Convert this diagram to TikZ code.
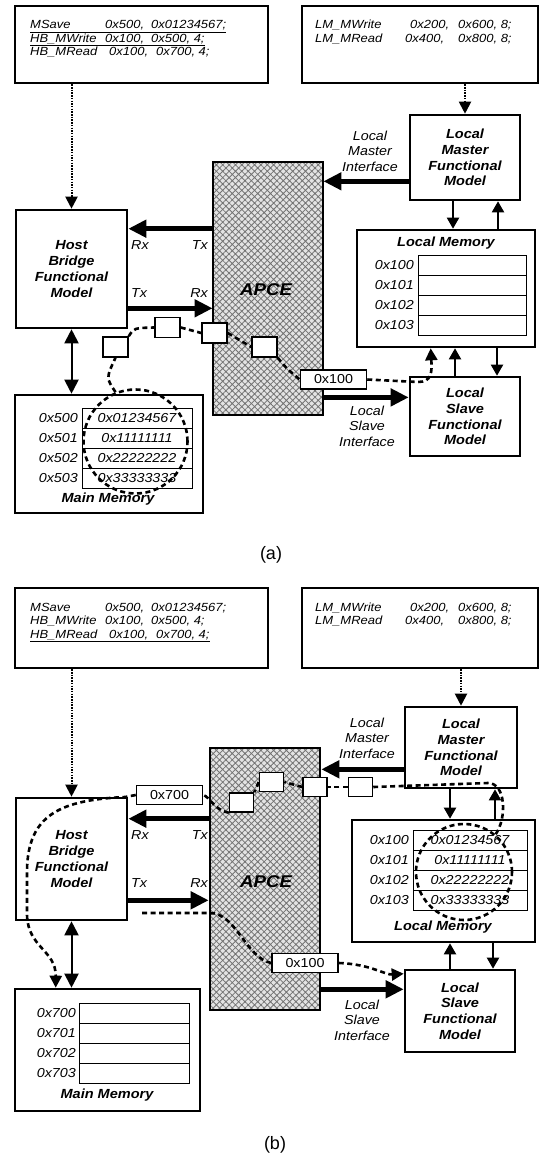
\documentclass[tikz,border=0pt]{standalone}
\usepackage{fontspec}
\setmainfont{Liberation Sans}[FakeStretch=1.1]
\newfontfamily\capfont{Liberation Sans}
\usetikzlibrary{arrows.meta,patterns.meta,calc}
\begin{document}
\begin{tikzpicture}[x=1pt,y=-1pt,
  box/.style={draw, line width=2.6pt, fill=white, inner sep=0pt},
  cmdtext/.style={anchor=base west, inner sep=0pt, font=\fontsize{11.8}{14}\selectfont\itshape},
  title/.style={align=center, inner sep=0pt, font=\fontsize{13.2}{15.8}\selectfont\bfseries\itshape},
  lab/.style={align=center, inner sep=0pt, font=\fontsize{13}{15.5}\selectfont\itshape},
  cell/.style={draw, line width=0.9pt, minimum width=110pt, minimum height=20pt, inner sep=0pt, font=\fontsize{13}{14}\selectfont\itshape},
  addr/.style={anchor=east, inner sep=0pt, font=\fontsize{13}{14}\selectfont\itshape},
  sq/.style={draw, line width=1.5pt, fill=white, minimum width=25pt, minimum height=20pt, inner sep=0pt},
  hexbox/.style={draw, line width=1.5pt, fill=white, minimum width=66pt, minimum height=19pt, inner sep=0pt, font=\fontsize{13}{14}\selectfont},
  apce/.style={draw, line width=2.6pt, inner sep=0pt, preaction={fill=gray!22},
    pattern={Hatch[angle=45,distance=4.5pt,line width=0.8pt]}, pattern color=black!55},
  apcetext/.style={inner sep=1pt, font=\fontsize{17}{18}\selectfont\bfseries\itshape},
  bigarrow/.style={line width=5pt, -{Triangle[length=18pt,width=17pt]}},
  thinarrow/.style={line width=2pt, -{Triangle[length=11pt,width=12pt]}},
  dualarrow/.style={line width=2pt, {Triangle[length=14pt,width=14pt]}-{Triangle[length=14pt,width=14pt]}},
  cmdarrow/.style={line width=2pt, dash pattern=on 1.5pt off 1.2pt, -{Triangle[length=12pt,width=12pt]}},
  flow/.style={line width=2.6pt, dash pattern=on 5pt off 3.5pt},
  flowarrow/.style={flow, -{Triangle[length=12pt,width=12pt]}},
  capt/.style={inner sep=0pt, font=\capfont\fontsize{18}{20}\selectfont},
]
\useasboundingbox[fill=white] (0,0) rectangle (542,1164);

%%%%%%%%%%%%%%%%%%%%%%%%%% (a)
\node[box, minimum width=253pt, minimum height=77pt] (cmdA) at (141.5,44.5) {};
\node[cmdtext] (cmdA1) at (30,29) {\underline{\makebox[75pt][l]{MSave}\makebox[46pt][l]{0x500,}0x01234567;}};
\node[cmdtext] (cmdA2) at (30,42.5) {\underline{\makebox[75pt][l]{HB\_MWrite}\makebox[46pt][l]{0x100,}0x500, 4;}};
\node[cmdtext] (cmdA3) at (30,56) {\makebox[79pt][l]{HB\_MRead}\makebox[47pt][l]{0x100,}0x700, 4;};
\node[box, minimum width=236pt, minimum height=77pt] (lmcA) at (420,44.5) {};
\node[cmdtext] (lmcA1) at (315,29) {\makebox[95pt][l]{LM\_MWrite}\makebox[48pt][l]{0x200,}0x600, 8;};
\node[cmdtext] (lmcA2) at (315,42.5) {\makebox[90pt][l]{LM\_MRead}\makebox[53pt][l]{0x400,}0x800, 8;};

\node[apce, minimum width=110pt, minimum height=253pt] (apceA) at (268,288.5) {};
\node[apcetext] (apceAt) at (266,290) {APCE};

\node[box, title, minimum width=111pt, minimum height=118pt] (hbA) at (71.5,269) {Host\\Bridge\\Functional\\Model};
\node[box, title, minimum width=110pt, minimum height=85pt] (lmfmA) at (465,157.5) {Local\\Master\\Functional\\Model};
\node[lab] (lmiA) at (370,151) {Local\\Master\\Interface};
\node[box, title, minimum width=110pt, minimum height=79pt] (lsfmA) at (465,416.5) {Local\\Slave\\Functional\\Model};
\node[lab] (lsiA) at (367,426) {Local\\Slave\\Interface};

\node[box, minimum width=178pt, minimum height=117pt] (lmA) at (446,288.5) {};
\node[title] (lmAt) at (446,243) {Local Memory};
\foreach \i in {0,...,3} {
  \node[cell, minimum width=108pt] (lmAc\i) at (472,265+20*\i) {};
  \node[addr] (lmAa\i) at (414,265+20*\i) {0x10\i};
}

\node[box, minimum width=188pt, minimum height=118pt] (mmA) at (109,454) {};
\foreach \i/\v in {0/0x01234567,1/0x11111111,2/0x22222222,3/0x33333333} {
  \node[cell] (mmAc\i) at (137,418+20*\i) {\v};
  \node[addr] (mmAa\i) at (78,418+20*\i) {0x50\i};
}
\node[title] (mmAt) at (108,499) {Main Memory};

% Rx / Tx
\node[lab, anchor=west] (rxA1) at (131,245) {Rx};
\node[lab, anchor=east] (txA1) at (208,245) {Tx};
\node[lab, anchor=west] (txA2) at (131,293) {Tx};
\node[lab, anchor=east] (rxA2) at (208,293) {Rx};

% arrows
\draw[cmdarrow] (cmdA.south -| hbA.north) -- (hbA.north);
\draw[cmdarrow] (lmcA.south -| lmfmA.north) -- (lmfmA.north);
\draw[bigarrow] ([yshift=20pt]lmfmA.south west) -- ([yshift=20pt]lmfmA.south west -| apceA.east);
\draw[bigarrow] ([yshift=-20pt]hbA.north east -| apceA.west) -- ([yshift=-20pt]hbA.north east);
\draw[bigarrow] ([yshift=21pt]hbA.south east) -- ([yshift=21pt]hbA.south east -| apceA.west);
\draw[bigarrow] ([yshift=18pt]apceA.south east) -- ([yshift=18pt]apceA.south east -| lsfmA.west);
\draw[dualarrow] (hbA.south) -- (hbA.south |- mmA.north);
\draw[thinarrow] ([xshift=-12pt]lmfmA.south) -- ([xshift=-12pt]lmfmA.south |- lmA.north);
\draw[thinarrow] ([xshift=33pt]lmfmA.south |- lmA.north) -- ([xshift=33pt]lmfmA.south);
\draw[thinarrow] ([xshift=-10pt]lsfmA.north) -- ([xshift=-10pt]lsfmA.north |- lmA.south);
\draw[thinarrow] ([xshift=32pt]lsfmA.north |- lmA.south) -- ([xshift=32pt]lsfmA.north);

% data flow (a)
\node[circle, draw, flow, minimum size=104pt, inner sep=0pt] (circA) at (135.5,441.5) {};
\node[sq] (sA1) at (115.5,347) {};
\node[sq] (sA2) at (167.5,327.5) {};
\node[sq] (sA3) at (214.5,333) {};
\node[sq] (sA4) at (264.5,347) {};
\node[hexbox] (hexA) at (333.5,379.5) {0x100};
\draw[flow] (circA.112) .. controls (106,378) .. (sA1.south);
\draw[flow] (sA1.north east) .. controls (134,328) .. (sA2.west);
\draw[flow] (sA2.east) -- (sA3.west);
\draw[flow] (sA3.east) -- (sA4.west);
\draw[flow] (sA4.south east) .. controls (286,368) .. (hexA.west);
\draw[flowarrow] (hexA.east) -- (418,382) .. controls (432,382) and (432,372) .. ([xshift=75pt]lmA.south west);

\node[capt] (capA) at (271,555) {(a)};

%%%%%%%%%%%%%%%%%%%%%%%%%% (b)
\node[box, minimum width=253pt, minimum height=80pt] (cmdB) at (141.5,628) {};
\node[cmdtext] (cmdB1) at (30,611) {\makebox[75pt][l]{MSave}\makebox[46pt][l]{0x500,}0x01234567;};
\node[cmdtext] (cmdB2) at (30,624.5) {\makebox[75pt][l]{HB\_MWrite}\makebox[46pt][l]{0x100,}0x500, 4;};
\node[cmdtext] (cmdB3) at (30,638) {\underline{\makebox[79pt][l]{HB\_MRead}\makebox[47pt][l]{0x100,}0x700, 4;}};
\node[box, minimum width=236pt, minimum height=80pt] (lmcB) at (420,628) {};
\node[cmdtext] (lmcB1) at (315,611) {\makebox[95pt][l]{LM\_MWrite}\makebox[48pt][l]{0x200,}0x600, 8;};
\node[cmdtext] (lmcB2) at (315,624.5) {\makebox[90pt][l]{LM\_MRead}\makebox[53pt][l]{0x400,}0x800, 8;};

\node[apce, minimum width=110pt, minimum height=262pt] (apceB) at (265,879) {};
\node[apcetext] (apceBt) at (266,882) {APCE};

\node[box, title, minimum width=111pt, minimum height=122pt] (hbB) at (71.5,859) {Host\\Bridge\\Functional\\Model};
\node[box, title, minimum width=112pt, minimum height=81pt] (lmfmB) at (461,747.5) {Local\\Master\\Functional\\Model};
\node[lab] (lmiB) at (367,738) {Local\\Master\\Interface};
\node[box, title, minimum width=110pt, minimum height=82pt] (lsfmB) at (460,1011) {Local\\Slave\\Functional\\Model};
\node[lab] (lsiB) at (362,1020) {Local\\Slave\\Interface};

\node[box, minimum width=183pt, minimum height=122pt] (lmB) at (443.5,881) {};
\foreach \i/\v in {0/0x01234567,1/0x11111111,2/0x22222222,3/0x33333333} {
  \node[cell, minimum width=114pt] (lmBc\i) at (470,840+20*\i) {\v};
  \node[addr] (lmBa\i) at (409,840+20*\i) {0x10\i};
}
\node[title] (lmBt) at (443,927) {Local Memory};

\node[box, minimum width=185pt, minimum height=122pt] (mmB) at (107.5,1050) {};
\foreach \i in {0,...,3} {
  \node[cell] (mmBc\i) at (134.5,1013+20*\i) {};
  \node[addr] (mmBa\i) at (76,1013+20*\i) {0x70\i};
}
\node[title] (mmBt) at (107,1095) {Main Memory};

\node[lab, anchor=west] (rxB1) at (131,835) {Rx};
\node[lab, anchor=east] (txB1) at (208,835) {Tx};
\node[lab, anchor=west] (txB2) at (131,883) {Tx};
\node[lab, anchor=east] (rxB2) at (208,883) {Rx};

\draw[cmdarrow] (cmdB.south -| hbB.north) -- (hbB.north);
\draw[cmdarrow] (lmcB.south -| lmfmB.north) -- (lmfmB.north);
\draw[bigarrow] ([yshift=20pt]lmfmB.south west) -- ([yshift=20pt]lmfmB.south west -| apceB.east);
\draw[bigarrow] ([yshift=-22pt]hbB.north east -| apceB.west) -- ([yshift=-22pt]hbB.north east);
\draw[bigarrow] ([yshift=21pt]hbB.south east) -- ([yshift=21pt]hbB.south east -| apceB.west);
\draw[bigarrow] ([yshift=22pt]apceB.south east) -- ([yshift=22pt]apceB.south east -| lsfmB.west);
\draw[dualarrow] (hbB.south) -- (hbB.south |- mmB.north);
\draw[thinarrow] ([xshift=-11pt]lmfmB.south) -- ([xshift=-11pt]lmfmB.south |- lmB.north);
\draw[thinarrow] ([xshift=34pt]lmfmB.south |- lmB.north) -- ([xshift=34pt]lmfmB.south);
\draw[thinarrow] ([xshift=-10pt]lsfmB.north) -- ([xshift=-10pt]lsfmB.north |- lmB.south);
\draw[thinarrow] ([xshift=33pt]lsfmB.north |- lmB.south) -- ([xshift=33pt]lsfmB.north);

% data flow (b)
\node[circle, draw, flow, minimum size=96pt, inner sep=0pt] (circB) at (464,872) {};
\node[sq, minimum width=24pt, minimum height=19pt] (sB1) at (241.5,802.5) {};
\node[sq, minimum width=24pt, minimum height=19pt] (sB2) at (271.5,782) {};
\node[sq, minimum width=24pt, minimum height=19pt] (sB3) at (315,787) {};
\node[sq, minimum width=24pt, minimum height=19pt] (sB4) at (360.5,787) {};
\node[hexbox] (hex700) at (169.5,795) {0x700};
\node[hexbox] (hexB) at (305,963) {0x100};
\coordinate (startB) at (142,913);
\draw[flow] (circB.50) .. controls (507,818) and (506,783) .. (488,783) -- (sB4.east);
\draw[flow] (sB4.west) -- (sB3.east);
\draw[flow] (sB3.west) -- (sB2.east);
\draw[flow] (sB2.west) -- (sB1.north east);
\draw[flow] (sB1.south west) .. controls (214,810) and (210,797) .. (hex700.east);
\draw[flowarrow] (hex700.west) -- (125,797) .. controls (60,800) and (28,815) .. (27,870) -- (27,915)
   .. controls (28,948) and (56,950) .. ([xshift=42pt]mmB.north west);
\draw[flow] (startB) -- (210,913) .. controls (236,913) and (246,958) .. (hexB.west);
\draw[flowarrow] (hexB.east) .. controls (370,964) and (385,975) .. ([yshift=-5pt]lsfmB.north west);

\node[capt] (capB) at (275,1145) {(b)};
\end{tikzpicture}
\end{document}
